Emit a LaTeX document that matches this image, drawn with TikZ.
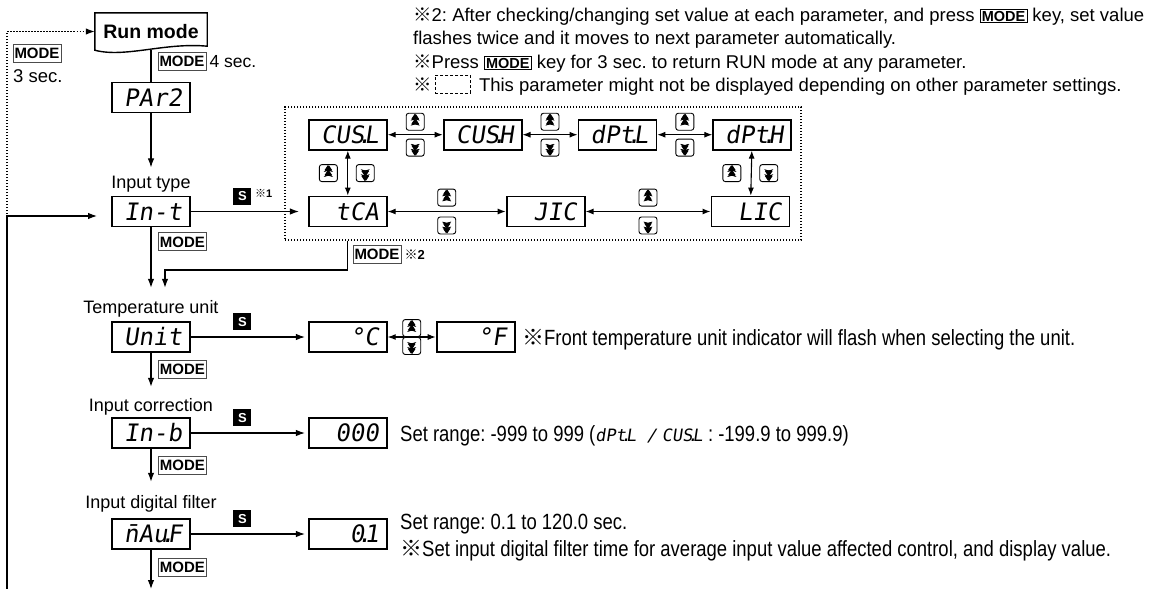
\documentclass[tikz,border=0pt]{standalone}
\usepackage{fontspec}
\setmainfont{Liberation Sans}
\newfontfamily\segfont[FakeSlant=0.15]{DejaVu Sans Mono}
\newfontfamily\narrowfont[FakeStretch=0.84]{Liberation Sans}
\newfontfamily\cjk{Noto Sans CJK JP}
\usetikzlibrary{arrows.meta, positioning}
\frenchspacing
\newcommand{\refmark}{{\cjk ※}}
\newcommand{\segdot}{\makebox[0pt]{.}}
\newcommand{\segtext}[1]{{\segfont\fontsize{17}{17}\selectfont #1}}
\newcommand{\modeinline}{{\setlength{\fboxsep}{1.2pt}\setlength{\fboxrule}{0.8pt}\fbox{\bfseries\fontsize{14.5}{14.5}\selectfont MODE}}}

\begin{document}
\begin{tikzpicture}[x=1pt, y=-1pt]
    % Define styles
    \tikzstyle{display} = [rectangle, draw=black, line width=1.8pt, minimum width=78pt, minimum height=30pt, inner sep=0pt, text width=62pt, text height=17.5pt, text depth=0pt, align=right, font=\segfont\fontsize{24}{24}\selectfont]
    \tikzstyle{title} = [inner sep=0pt, anchor=base, font=\fontsize{18}{20}\selectfont]
    \tikzstyle{note} = [inner sep=0pt, anchor=base west, font=\fontsize{18.5}{20}\selectfont]
    \tikzstyle{narrownote} = [inner sep=0pt, anchor=base west, font=\narrowfont\fontsize{22}{24}\selectfont]
    \tikzstyle{modekey} = [rectangle, draw=black!70, line width=0.9pt, fill=white, inner sep=1pt, minimum width=48pt, minimum height=18pt, font=\bfseries\fontsize{15}{15}\selectfont]
    \tikzstyle{skey} = [rectangle, fill=black, text=white, inner sep=0pt, minimum width=18pt, minimum height=17pt, font=\bfseries\fontsize{13}{13}\selectfont]
    \tikzstyle{arrowkey} = [rectangle, rounded corners=2.5pt, draw, line width=0.9pt, fill=white, minimum width=18pt, minimum height=17pt, inner sep=0pt]
    \tikzstyle{upkey} = [arrowkey, path picture={
        \draw[line width=0.9pt] ([xshift=-4.5pt,yshift=1pt]path picture bounding box.center) -- ++(4.5pt,3pt) -- ++(4.5pt,-3pt);
        \draw[line width=0.9pt] ([xshift=-4.5pt,yshift=-4pt]path picture bounding box.center) -- ++(4.5pt,3pt) -- ++(4.5pt,-3pt);}]
    \tikzstyle{downkey} = [arrowkey, path picture={
        \draw[line width=0.9pt] ([xshift=-4.5pt,yshift=-1pt]path picture bounding box.center) -- ++(4.5pt,-3pt) -- ++(4.5pt,3pt);
        \draw[line width=0.9pt] ([xshift=-4.5pt,yshift=4pt]path picture bounding box.center) -- ++(4.5pt,-3pt) -- ++(4.5pt,3pt);}]
    \tikzstyle{arrow} = [line width=1.1pt, ->, >={Latex[length=9pt,width=6.5pt]}]
    \tikzstyle{twoway} = [line width=1.1pt, <->, >={Latex[length=8pt,width=6pt]}]
    \tikzstyle{dots} = [line width=1.2pt, dash pattern=on 1.2pt off 1.8pt]

    \useasboundingbox (0,0) rectangle (1162,589);

    % Run mode
    \node (run) [minimum width=112pt, minimum height=37pt, inner sep=0pt, font=\bfseries\fontsize{19.5}{20}\selectfont] at (151,31.5) {Run mode};
    \draw [line width=1.4pt] (run.north west) -- (run.north east) -- ([yshift=4pt]run.south east)
        .. controls ([xshift=-42pt,yshift=8pt]run.south east) and ([xshift=30pt,yshift=-8pt]run.south west) .. (run.south west) -- cycle;
    \node (moderun) [modekey] at (182,61.5) {MODE};
    \node (foursec) [right=3pt of moderun, inner sep=0pt, font=\fontsize{17.5}{20}\selectfont] {4 sec.};
    \node (modeloop) [modekey] at (37,53.5) {MODE};
    \node (threesec) [note] at (13,82) {3 sec.};

    % Parameter column
    \node (par2) [display] at (151,97.5) {PAr2};
    \node (int) [display] at (151,211.5) {In-t};
    \node (unit) [display] at (151,337) {Unit};
    \node (inb) [display] at (151,433) {In-b};
    \node (mavf) [display] at (151,534) {\=nAu\segdot F};
    \node (typelbl) [title] at (151,188) {Input type};
    \node (unitlbl) [title] at (151,313) {Temperature unit};
    \node (corrlbl) [title] at (151,411.5) {Input correction};
    \node (filtlbl) [title] at (151,508) {Input digital filter};

    % Set values
    \node (tca) [display, right=117pt of int] {tCA};
    \node (jic) [display, right=118pt of tca] {JIC};
    \node (lic) [display, right=125pt of jic] {LIC};
    \node (cusl) [display, above=45pt of tca] {CUS\segdot L};
    \node (cush) [display, right=55pt of cusl] {CUS\segdot H};
    \node (dptl) [display, right=55pt of cush] {dPt\segdot L};
    \node (dpth) [display, right=55pt of dptl] {dPt\segdot H};
    \node (degc) [display, right=117pt of unit] {°C};
    \node (degf) [display, right=48pt of degc] {°F};
    \node (zero) [display, right=117pt of inb] {000};
    \node (filt) [display, right=117pt of mavf] {0\segdot 1};
    \node (optbox) [draw, dots, minimum width=516pt, minimum height=133pt] at (543,173.5) {};

    % Flow
    \coordinate (looptop) at (7,214);
    \coordinate (loopbot) at (7,589);
    \coordinate (loopin) at (97,216);
    \coordinate (turn) at (165,270);
    \coordinate (bottom) at (151,589);
    \draw [arrow, dots] (looptop) |- (run.west);
    \draw [arrow] (loopbot) |- (loopin);
    \draw [line width=1.1pt] (run.south) -- (par2);
    \draw [arrow, shorten >=8pt] (par2) -- (typelbl.north);
    \draw [arrow, shorten >=12pt] (int) -- (unitlbl.north);
    \draw [arrow, shorten >=11.5pt] (unit) -- (corrlbl.north);
    \draw [arrow, shorten >=13pt] (inb) -- (filtlbl.north);
    \draw [arrow] (mavf) -- (bottom);
    \draw [arrow] (optbox.south -| tca) |- (turn) -- ([yshift=12pt]unitlbl.north -| turn);

    \node (modeint) [modekey, below right=5pt and 7pt of int.south] {MODE};
    \node (modeunit) [modekey, below right=7pt and 7pt of unit.south] {MODE};
    \node (modeinb) [modekey, below right=7pt and 7pt of inb.south] {MODE};
    \node (modemavf) [modekey, below right=8pt and 7pt of mavf.south] {MODE};
    \node (mode2) [modekey] at (377,254.5) {MODE};
    \node (mark2) [right=3pt of mode2, inner sep=0pt, font=\bfseries\fontsize{13}{13}\selectfont] {\refmark 2};

    \draw [arrow, shorten >=9pt] (int) -- node [skey, pos=0.44, above=6pt] (sint) {S} (tca);
    \node (mark1) [right=3pt of sint, yshift=3pt, inner sep=0pt, font=\bfseries\fontsize{11}{11}\selectfont] {\refmark 1};
    \draw [arrow, shorten >=3pt] (unit) -- node [skey, pos=0.44, above=6pt] (sunit) {S} (degc);
    \draw [arrow, shorten >=3pt] (inb) -- node [skey, pos=0.44, above=6pt] (sinb) {S} (zero);
    \draw [arrow, shorten >=3pt] (mavf) -- node [skey, pos=0.44, above=6pt] (smavf) {S} (filt);

    % Up / down keys
    \foreach \a/\b [count=\i] in {cusl/cush, cush/dptl, dptl/dpth}
        \draw [twoway] (\a) -- node [upkey, above=4pt] (hup\i) {} node [downkey, below=4pt] (hdn\i) {} (\b);
    \foreach \a/\b [count=\i from 4] in {tca/jic, jic/lic}
        \draw [twoway] (\a) -- node [upkey, above=5pt] (hup\i) {} node [downkey, below=5pt] (hdn\i) {} (\b);
    \draw [twoway] (cusl) -- node [upkey, left=10pt] (vup1) {} node [downkey, right=8pt] (vdn1) {} (tca);
    \draw [twoway] (dpth) -- node [upkey, left=10pt] (vup2) {} node [downkey, right=8pt] (vdn2) {} (lic);
    \draw [twoway] (degc) -- node [upkey, above=0pt] (cfup) {} node [downkey, below=0pt] (cfdn) {} (degf);

    % Notes
    \node (note1) [note] at (413,21) {\refmark 2: After checking/changing set value at each parameter, and press \modeinline{} key, set value};
    \node (note2) [note] at (413,44.5) {flashes twice and it moves to next parameter automatically.};
    \node (note3) [note] at (413,68) {\refmark Press \modeinline{} key for 3 sec. to return RUN mode at any parameter.};
    \node (note4a) [note] at (413,91.5) {\refmark};
    \node (note4box) [draw, line width=0.9pt, dash pattern=on 3pt off 2pt, minimum width=35pt, minimum height=18pt, inner sep=0pt, anchor=west] at ([xshift=3pt,yshift=7.5pt]note4a.base east) {};
    \node (note4) [note, xshift=8pt] at (note4box.east |- note4a.base) {This parameter might not be displayed depending on other parameter settings.};
    \node (unitnote) [narrownote] at (522,345) {\refmark Front temperature unit indicator will flash when selecting the unit.};
    \node (corrnote) [narrownote] at (400,441) {Set range: -999 to 999 (\segtext{dPt\segdot L /} \segtext{CUS\segdot L} : -199.9 to 999.9)};
    \node (filtnote1) [narrownote] at (400,529) {Set range: 0.1 to 120.0 sec.};
    \node (filtnote2) [narrownote] at (400,556) {\refmark Set input digital filter time for average input value affected control, and display value.};
\end{tikzpicture}
\end{document}
